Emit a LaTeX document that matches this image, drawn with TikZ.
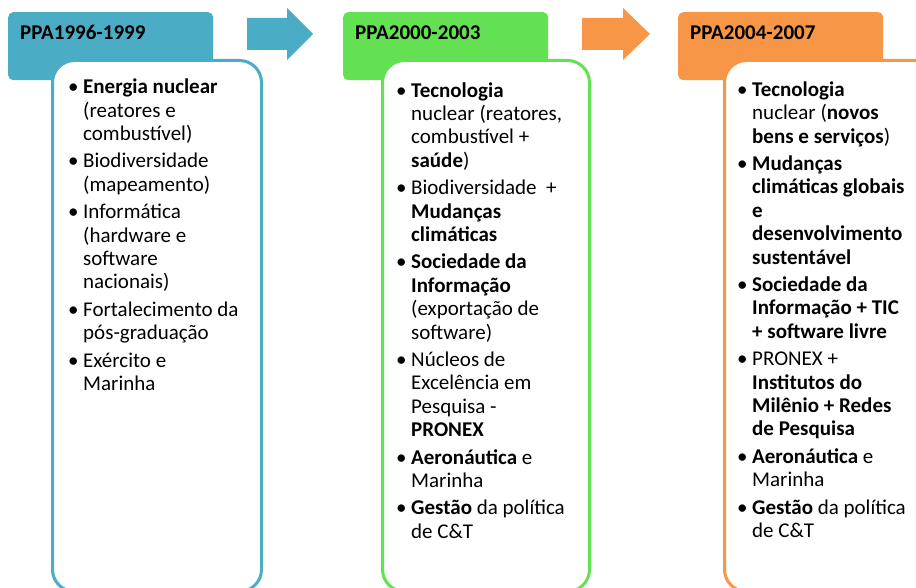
\documentclass[tikz,border=0pt]{standalone}
\usepackage{fontspec}
\setmainfont{Carlito}
\definecolor{cblue}{HTML}{4BACC6}
\definecolor{cgreen}{HTML}{63E152}
\definecolor{corange}{HTML}{F79646}
\newcommand\bul{\llap{\textbullet\hspace{4.5pt}}}
\tikzset{
  header/.style={rounded corners=5pt, inner sep=0, anchor=north west, minimum width=205, minimum height=68},
  panel/.style={line width=3pt, fill=white, rounded corners=22pt, inner sep=0, anchor=north west},
  body/.style={anchor=north west, inner sep=0, align=left, font=\fontsize{21}{23.4}\selectfont},
  htext/.style={anchor=base west, inner sep=0, font=\fontsize{21}{25}\selectfont\bfseries}
}
\begin{document}
\begin{tikzpicture}[x=1pt,y=-1pt]
\useasboundingbox (0,0) rectangle (916,588);
% headers
\node[header, fill=cblue] (h1) at (8,12) {};
\node[header, fill=cgreen] (h2) at (343,12) {};
\node[header, fill=corange] (h3) at (678,12) {};
\node[htext] (ht1) at (20,40) {PPA1996-1999};
\node[htext] (ht2) at (355,40) {PPA2000-2003};
\node[htext] (ht3) at (690,40) {PPA2004-2007};
% arrows
\fill[cblue] (247,18) -- (287,18) -- (287,8) -- (313,34) -- (287,60) -- (287,50) -- (247,50) -- cycle;
\fill[corange] (582,18) -- (623,18) -- (623,8) -- (650,34) -- (623,60) -- (623,50) -- (582,50) -- cycle;
% panels
\node[panel, draw=cblue, minimum width=209, minimum height=531] (p1) at (51,59) {};
\node[panel, draw=cgreen, minimum width=207, minimum height=531] (p2) at (381,59) {};
\node[panel, draw=corange, minimum width=250, minimum height=531] (p3) at (723,59) {};
% texts
\node[body] (t1) at (83,77.2) {\strut\bul\textbf{Energia nuclear}\\
(reatores e\\
combustível)\\[4pt]
\bul Biodiversidade\\
(mapeamento)\\[4pt]
\bul Informática\\
(hardware e\\
software\\
nacionais)\\[4pt]
\bul Fortalecimento da\\
pós-graduação\\[4pt]
\bul Exército e\\
Marinha};
\node[body] (t2) at (411,80.5) {\strut\bul\textbf{Tecnologia}\\
nuclear (reatores,\\
combustível +\\
\textbf{saúde})\\[4pt]
\bul Biodiversidade\ \ +\\
\textbf{Mudanças}\\
\textbf{climáticas}\\[4pt]
\bul\textbf{Sociedade da}\\
\textbf{Informação}\\
(exportação de\\
software)\\[4pt]
\bul Núcleos de\\
Excelência em\\
Pesquisa -\\
\textbf{PRONEX}\\[4pt]
\bul\textbf{Aeronáutica} e\\
Marinha\\[4pt]
\bul\textbf{Gestão} da política\\
de C\&T};
\node[body] (t3) at (752,79.8) {\strut\bul\textbf{Tecnologia}\\
nuclear (\textbf{novos}\\
\textbf{bens e serviços})\\[4pt]
\bul\textbf{Mudanças}\\
\textbf{climáticas globais}\\
\textbf{e}\\
\textbf{desenvolvimento}\\
\textbf{sustentável}\\[4pt]
\bul\textbf{Sociedade da}\\
\textbf{Informação + TIC}\\
\textbf{+ software livre}\\[4pt]
\bul PRONEX +\\
\textbf{Institutos do}\\
\textbf{Milênio + Redes}\\
\textbf{de Pesquisa}\\[4pt]
\bul\textbf{Aeronáutica} e\\
Marinha\\[4pt]
\bul\textbf{Gestão} da política\\
de C\&T};
\end{tikzpicture}
\end{document}
